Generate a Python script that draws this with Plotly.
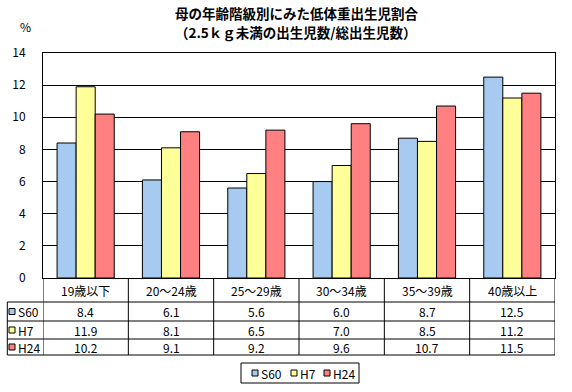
import plotly.graph_objects as go

categories = ["19歳以下", "20～24歳", "25～29歳", "30～34歳", "35～39歳", "40歳以上"]
series_names = ["S60", "H7", "H24"]
s60 = [8.4, 6.1, 5.6, 6.0, 8.7, 12.5]
h7 = [11.9, 8.1, 6.5, 7.0, 8.5, 11.2]
h24 = [10.2, 9.1, 9.2, 9.6, 10.7, 11.5]
series_values = [s60, h7, h24]
colors = ["#A6CAF0", "#FFFF99", "#FF8080"]
y_ticks = [0, 2, 4, 6, 8, 10, 12, 14]
title_lines = ["母の年齢階級別にみた低体重出生児割合", "（2.5ｋｇ未満の出生児数/総出生児数）"]
unit_label = "%"

W, H = 572, 392
L, R, T, B = 43, 555, 53, 278
FONT = "Noto Sans CJK JP"


def px(x):
    return (x - L) / (R - L)


def py(y):
    return (B - y) / (B - T)


fig = go.Figure()
xs = list(range(len(categories)))
for name, vals, col in zip(series_names, series_values, colors):
    fig.add_trace(go.Bar(x=xs, y=vals, name=name, marker=dict(color=col, line=dict(color="black", width=1)),
                         showlegend=False, hoverinfo="skip"))

shapes = []
annotations = []

# table grid
table_left = 7.3
row_lines = [302, 321, 339, 355]
for yl in row_lines:
    shapes.append(dict(type="line", xref="paper", yref="paper", x0=px(table_left), x1=1, y0=py(yl), y1=py(yl),
                       line=dict(color="black", width=1)))
shapes.append(dict(type="line", xref="paper", yref="paper", x0=px(table_left), x1=px(table_left),
                   y0=py(302), y1=py(355), line=dict(color="black", width=1)))
for i in range(len(categories) + 1):
    xb = i - 0.5
    shapes.append(dict(type="line", xref="x", yref="paper", x0=xb, x1=xb, y0=0, y1=py(355),
                       line=dict(color="black", width=1)))

# header labels
for i, c in enumerate(categories):
    annotations.append(dict(x=i, y=py(290), xref="x", yref="paper", text=c, showarrow=False,
                            font=dict(family=FONT, size=12, color="black"), xanchor="center", yanchor="middle"))

row_centers = [311.5, 330, 347]
for r, (name, vals, col) in enumerate(zip(series_names, series_values, colors)):
    yc = row_centers[r]
    shapes.append(dict(type="rect", xref="paper", yref="paper", x0=px(9), x1=px(15), y0=py(yc + 3), y1=py(yc - 3),
                       fillcolor=col, line=dict(color="black", width=1)))
    annotations.append(dict(x=px(16), y=py(yc), xref="paper", yref="paper", text=name, showarrow=False,
                            font=dict(family=FONT, size=12, color="black"), xanchor="left", yanchor="middle"))
    for i, v in enumerate(vals):
        annotations.append(dict(x=i, y=py(yc), xref="x", yref="paper", text=f"{v:.1f}", showarrow=False,
                                font=dict(family=FONT, size=12, color="black"), xanchor="center", yanchor="middle"))

# legend
shapes.append(dict(type="rect", xref="paper", yref="paper", x0=px(241), x1=px(359), y0=py(383), y1=py(363),
                   line=dict(color="black", width=1), fillcolor="white"))
leg_sq = [252, 291, 324]
for name, col, sx in zip(series_names, colors, leg_sq):
    shapes.append(dict(type="rect", xref="paper", yref="paper", x0=px(sx), x1=px(sx + 6), y0=py(376), y1=py(370),
                       fillcolor=col, line=dict(color="black", width=1)))
    annotations.append(dict(x=px(sx + 6.5), y=py(373), xref="paper", yref="paper", text=name, showarrow=False,
                            font=dict(family=FONT, size=12, color="black"), xanchor="left", yanchor="middle"))

# title
for line, yy in zip(title_lines, [13, 32]):
    annotations.append(dict(x=px(296), y=py(yy), xref="paper", yref="paper", text=f"<b>{line}</b>",
                            showarrow=False, font=dict(family=FONT, size=13.5, color="black"),
                            xanchor="center", yanchor="middle"))

annotations.append(dict(x=px(25), y=py(27), xref="paper", yref="paper", text=unit_label, showarrow=False,
                        font=dict(family=FONT, size=12, color="black"), xanchor="center", yanchor="middle"))

fig.update_layout(
    width=W, height=H,
    margin=dict(l=L, r=W - R, t=T, b=H - B, pad=0),
    paper_bgcolor="white", plot_bgcolor="white",
    barmode="group", bargap=0.33, bargroupgap=0,
    shapes=shapes, annotations=annotations,
    font=dict(family=FONT, size=12, color="black"),
    xaxis=dict(range=[-0.5, 5.5], showticklabels=False, showgrid=False, zeroline=False,
               showline=True, linecolor="black", linewidth=1, mirror=True, ticks=""),
    yaxis=dict(range=[0, 14], tickvals=y_ticks, ticktext=[str(t) for t in y_ticks], showgrid=True,
               gridcolor="black", gridwidth=1, zeroline=False, showline=True, linecolor="black",
               linewidth=1, mirror=True, ticks="", ticklabelstandoff=14,
               tickfont=dict(family=FONT, size=12, color="black")),
)

fig.write_html("out.html", config={"displayModeBar": False},
               post_script="document.body.style.margin='0';document.body.style.overflow='hidden';")
